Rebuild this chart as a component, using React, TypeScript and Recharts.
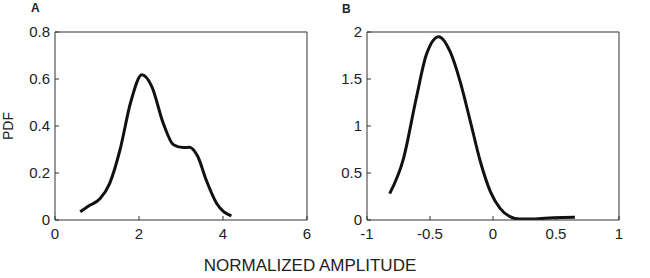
import React from 'react';
import { LineChart, Line, XAxis, YAxis } from 'recharts';

// Panel A: normalized amplitude vs PDF
const ampA = [0.6, 0.8, 1.07, 1.3, 1.55, 1.8, 2.07, 2.3, 2.58, 2.82, 3.05, 3.2, 3.4, 3.6, 3.85, 4.2];
const pdfA = [0.035, 0.06, 0.09, 0.155, 0.3, 0.5, 0.618, 0.57, 0.41, 0.32, 0.308, 0.31, 0.27, 0.17, 0.07, 0.018];

// Panel B
const ampB = [-0.82, -0.71, -0.61, -0.53, -0.43, -0.34, -0.26, -0.18, -0.1, -0.02, 0.056, 0.135, 0.21, 0.32, 0.48, 0.65];
const pdfB = [0.28, 0.656, 1.29, 1.755, 1.95, 1.79, 1.47, 1.05, 0.62, 0.3, 0.124, 0.035, 0.01, 0.01, 0.025, 0.03];

const xTicksA = [0, 2, 4, 6];
const yTicksA = [0, 0.2, 0.4, 0.6, 0.8];
const xTicksB = [-1, -0.5, 0, 0.5, 1];
const yTicksB = [0, 0.5, 1, 1.5, 2];

const FONT = '"Liberation Sans", Arial, sans-serif';
const AXIS = '#333';
const tickStyle = { fill: '#222', fontSize: 15, fontFamily: FONT };

const dataA = ampA.map((x, i) => ({ x, y: pdfA[i] }));
const dataB = ampB.map((x, i) => ({ x, y: pdfB[i] }));

interface PanelProps {
  data: { x: number; y: number }[];
  xDomain: [number, number];
  yDomain: [number, number];
  xTicks: number[];
  yTicks: number[];
  yWidth: number;
  marginLeft: number;
  marginRight: number;
}

const Panel: React.FC<PanelProps> = ({ data, xDomain, yDomain, xTicks, yTicks, yWidth, marginLeft, marginRight }) => (
  <LineChart
    width={325}
    height={278}
    data={data}
    margin={{ top: 31, right: marginRight - 1, bottom: 28, left: marginLeft }}
  >
    <XAxis
      dataKey="x"
      type="number"
      domain={xDomain}
      ticks={xTicks}
      allowDataOverflow
      height={30}
      tickSize={-4}
      tickMargin={12}
      stroke={AXIS}
      tick={tickStyle}
    />
    <XAxis
      xAxisId="top"
      orientation="top"
      dataKey="x"
      type="number"
      domain={xDomain}
      ticks={xTicks}
      allowDataOverflow
      height={1}
      tickSize={-4}
      tick={false}
      stroke={AXIS}
    />
    <YAxis
      type="number"
      domain={yDomain}
      ticks={yTicks}
      allowDataOverflow
      width={yWidth}
      tickSize={-4}
      tickMargin={9}
      stroke={AXIS}
      tick={tickStyle}
    />
    <YAxis
      yAxisId="right"
      orientation="right"
      type="number"
      domain={yDomain}
      ticks={yTicks}
      allowDataOverflow
      width={1}
      tickSize={-4}
      tick={false}
      stroke={AXIS}
    />
    {/* invisible series so the top/right frame axes are drawn */}
    <Line
      xAxisId="top"
      yAxisId="right"
      dataKey="y"
      stroke="none"
      dot={false}
      activeDot={false}
      isAnimationActive={false}
    />
    <Line
      dataKey="y"
      type="monotone"
      stroke="#111"
      strokeWidth={3}
      dot={false}
      isAnimationActive={false}
    />
  </LineChart>
);

const App: React.FC = () => (
  <div style={{ position: 'absolute', left: 0, top: 0, width: 650, height: 278, background: '#fff', fontFamily: FONT, color: '#222' }}>
    <div style={{ position: 'absolute', left: 0, top: 0 }}>
      <Panel data={dataA} xDomain={[0, 6]} yDomain={[0, 0.8]} xTicks={xTicksA} yTicks={yTicksA} yWidth={40} marginLeft={15} marginRight={18} />
    </div>
    <div style={{ position: 'absolute', left: 325, top: 0 }}>
      <Panel data={dataB} xDomain={[-1, 1]} yDomain={[0, 2]} xTicks={xTicksB} yTicks={yTicksB} yWidth={30} marginLeft={12} marginRight={31} />
    </div>
    <div style={{ position: 'absolute', left: 31, top: 1, fontSize: 12, fontWeight: 'bold' }}>A</div>
    <div style={{ position: 'absolute', left: 342, top: 2, fontSize: 12, fontWeight: 'bold' }}>B</div>
    <div
      style={{
        position: 'absolute',
        left: 8,
        top: 126,
        fontSize: 14,
        transform: 'translate(-50%, -50%) rotate(-90deg)',
        whiteSpace: 'nowrap',
      }}
    >
      PDF
    </div>
    <div style={{ position: 'absolute', left: 0, width: 620, top: 256, textAlign: 'center', fontSize: 17, whiteSpace: 'nowrap' }}>
      NORMALIZED AMPLITUDE
    </div>
  </div>
);

export default App;
